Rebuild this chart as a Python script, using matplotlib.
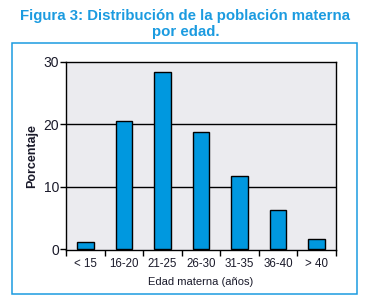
import matplotlib
matplotlib.use('agg')
import matplotlib.pyplot as plt
from matplotlib.patches import Rectangle
import numpy as np

categories = ['< 15', '16-20', '21-25', '26-30', '31-35', '36-40', '> 40']
porcentaje = [1.1, 20.5, 28.4, 18.8, 11.7, 6.3, 1.6]
yticks = [0, 10, 20, 30]

titulo = 'Figura 3: Distribución de la población materna\npor edad.'
xlab = 'Edad materna (años)'
ylab = 'Porcentaje'

plt.rcParams['font.family'] = ['Liberation Sans', 'DejaVu Sans']
blue = '#1b9be0'
txt = '#1a1a2a'

fig = plt.figure(figsize=(3.73, 3.07), dpi=100)
fig.patch.set_facecolor('white')

# marco azul alrededor del grafico
fig.patches.append(Rectangle((0.0335, 0.042), 0.924, 0.818, transform=fig.transFigure,
                             fill=False, edgecolor=blue, lw=1.1))

fig.text(0.497, 1 - 24 / 307, titulo, ha='center', va='center', color=blue,
         fontsize=10.8, fontweight='bold', linespacing=1.25)

ax = fig.add_axes([66 / 373, 1 - 250 / 307, 270 / 373, 188 / 307])
ax.set_facecolor('#ebebef')

x = np.arange(len(categories))
ax.bar(x, porcentaje, width=0.43, color='#0098df', edgecolor='black', lw=1.0, zorder=3)

for y in yticks[1:3]:
    ax.axhline(y, color='black', lw=1.0, zorder=1)

ax.set_xlim(-0.5, len(categories) - 0.5)
ax.set_ylim(-0.16, 30)
ax.set_yticks(yticks)
ax.set_yticklabels([str(t) for t in yticks], fontsize=10, color=txt)
ax.set_xticks(x)
ax.set_xticklabels(categories, fontsize=8.3, color=txt)
ax.set_xticks(np.arange(-0.5, len(categories)), minor=True)
ax.tick_params(axis='x', which='major', length=0, pad=6)
ax.tick_params(axis='x', which='minor', length=4, width=1.0, color='black')
ax.tick_params(axis='y', length=4, width=1.0, pad=1)

for s in ax.spines.values():
    s.set_linewidth(1.0)
    s.set_color('black')

ax.set_xlabel(xlab, fontsize=8, color=txt, labelpad=5)
ax.set_ylabel(ylab, fontsize=9, fontweight='bold', color=txt, labelpad=4)

fig.savefig('out.png', dpi=100)
